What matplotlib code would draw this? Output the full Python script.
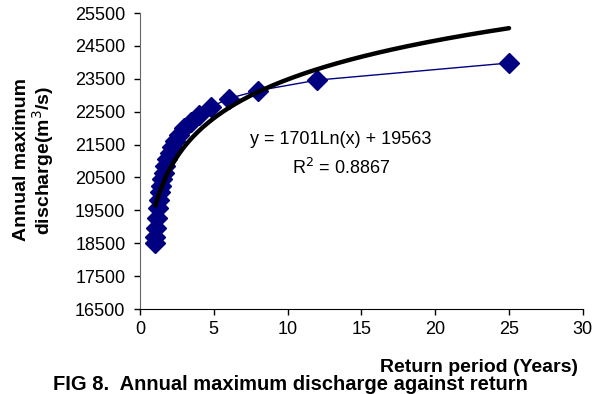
import matplotlib
matplotlib.use('Agg')
import matplotlib.pyplot as plt
import numpy as np

plt.rcParams['font.family'] = ['Liberation Sans', 'DejaVu Sans']

# return period (years) and annual maximum discharge (m3/s)
return_period = [25, 12, 8, 6, 4.8, 4, 3.43, 3, 2.67, 2.4, 2.18, 2, 1.85,
                 1.71, 1.6, 1.5, 1.41, 1.33, 1.26, 1.2, 1.14, 1.09, 1.04, 1.0]
discharge = [23980, 23460, 23140, 22900, 22640, 22400, 22200, 22000, 21800,
             21620, 21430, 21250, 21050, 20850, 20650, 20450, 20250, 20050,
             19820, 19560, 19270, 18950, 18700, 18500]

fit_a = 1701
fit_b = 19563
eq_text = "y = 1701Ln(x) + 19563"
r2_text = "R$^2$ = 0.8867"

fig = plt.figure(figsize=(5.99, 3.94), dpi=100)
ax = fig.add_axes([0.2337, 0.2157, 0.7393, 0.7513])

ax.plot(return_period, discharge, color='#000080', lw=1.0, marker='D',
        ms=10.5, mec='#000080', mfc='#000080', zorder=2)

xt = np.linspace(min(return_period) + 0.05, max(return_period), 300)
ax.plot(xt, fit_a * np.log(xt) + fit_b, color='black', lw=3.2,
        solid_capstyle='round', zorder=3)

ax.text(13.6, 21640, eq_text, ha='center', va='center', fontsize=13)
ax.text(13.6, 20790, r2_text, ha='center', va='center', fontsize=13)

ax.set_xlim(0, 30)
ax.set_ylim(16500, 25500)
ax.set_xticks(np.arange(0, 31, 5))
ax.set_yticks(np.arange(16500, 25501, 1000))
ax.tick_params(axis='both', labelsize=13, direction='out', length=4.5, width=1)
ax.tick_params(axis='y', pad=6)
ax.tick_params(axis='x', pad=4)

for s in ['top', 'right']:
    ax.spines[s].set_visible(False)
ax.spines['left'].set_color('#666666')
ax.spines['bottom'].set_color('black')

fig.text(0.057, 0.594, "Annual maximum\ndischarge(m$^3$/s)", rotation=90,
         ha='center', va='center', fontsize=14, fontweight='bold',
         linespacing=1.0)
fig.text(0.965, 0.056, "Return period (Years)", ha='right', va='baseline',
         fontsize=14, fontweight='bold')
fig.text(0.0885, 0.011, "FIG 8.  Annual maximum discharge against return",
         ha='left', va='baseline', fontsize=14.5, fontweight='bold')

fig.savefig('out.png', dpi=100)
